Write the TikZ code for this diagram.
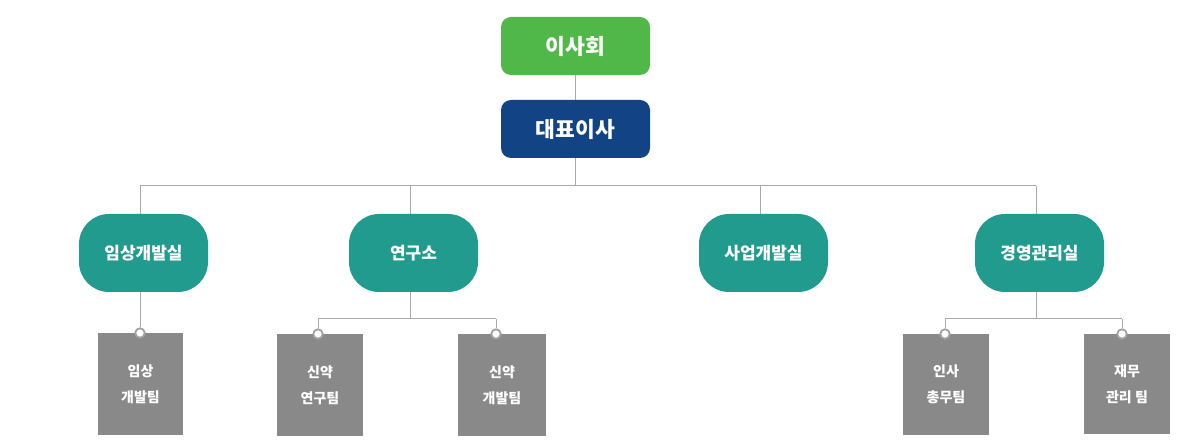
\documentclass[tikz,border=0pt]{standalone}
\usepackage{fontspec}
\setmainfont{Noto Sans CJK KR}
\definecolor{boardgreen}{HTML}{50B848}
\definecolor{ceonavy}{HTML}{124385}
\definecolor{deptteal}{HTML}{229B8F}
\definecolor{teamgray}{HTML}{898989}
\definecolor{linegray}{HTML}{AAAAAA}
\begin{document}
\begin{tikzpicture}[x=1pt,y=-1pt,
  topbox/.style={rectangle, rounded corners=10pt, minimum width=149pt, minimum height=58pt, text=white, font=\fontsize{21.5}{24}\selectfont\bfseries, inner sep=0pt},
  deptbox/.style={rectangle, rounded corners=30pt, fill=deptteal, minimum width=129pt, minimum height=78pt, text=white, font=\fontsize{17}{20}\selectfont\bfseries, inner sep=0pt},
  teambox/.style={rectangle, fill=teamgray, minimum width=86pt, minimum height=102pt, text=white, font=\fontsize{14}{26}\selectfont\bfseries, align=center, inner sep=0pt},
  pin/.style={circle, fill=white, draw=teamgray!80, line width=1.8pt, minimum size=9.5pt, inner sep=0pt},
  conn/.style={draw=linegray, line width=1pt}]
\useasboundingbox (0,0) rectangle (1200,443);
\node[topbox, fill=boardgreen] (board) at (575.5,46) {이사회};
\node[topbox, fill=ceonavy] (ceo) at (575.5,129) {대표이사};
\node[deptbox] (d1) at (143.5,253) {임상개발실};
\node[deptbox] (d2) at (413.5,253) {연구소};
\node[deptbox] (d3) at (763.5,253) {사업개발실};
\node[deptbox] (d4) at (1039.5,253) {경영관리실};
\node[teambox, minimum width=85pt] (g1) at (140.5,384) {임상\\개발팀};
\node[teambox] (g2) at (320,385) {신약\\연구팀};
\node[teambox, minimum width=88pt] (g3) at (502,385) {신약\\개발팀};
\node[teambox, minimum height=101pt] (g4) at (946,384.5) {인사\\총무팀};
\node[teambox, minimum height=100pt] (g5) at (1127,384) {재무\\관리 팀};
% bus coordinates
\coordinate (bus) at (575.5,186);
\coordinate (b1) at (140,186);
\coordinate (b2) at (410,186);
\coordinate (b3) at (760,186);
\coordinate (b4) at (1036,186);
\coordinate (s2) at (410,319);
\coordinate (s4) at (1036,319);
\path[conn] (board.south) -- (ceo.north);
\path[conn] (ceo.south) -- (bus);
\path[conn] (b1) -- (b4);
\path[conn] (b1) -- (b1 |- d1.north);
\path[conn] (b2) -- (b2 |- d2.north);
\path[conn] (b3) -- (b3 |- d3.north);
\path[conn] (b4) -- (b4 |- d4.north);
% pins
\node[pin] (p1) at (140,333) {};
\node[pin] (p2) at (318,334) {};
\node[pin] (p3) at (496,334) {};
\node[pin] (p4) at (945,334) {};
\node[pin] (p5) at (1122,334) {};
\path[conn] (b1 |- d1.south) -- (p1.north);
\path[conn] (s2 |- d2.south) -- (s2);
\path[conn] (p2 |- s2) -- (p3 |- s2);
\path[conn] (p2 |- s2) -- (p2.north);
\path[conn] (p3 |- s2) -- (p3.north);
\path[conn] (s4 |- d4.south) -- (s4);
\path[conn] (p4 |- s4) -- (p5 |- s4);
\path[conn] (p4 |- s4) -- (p4.north);
\path[conn] (p5 |- s4) -- (p5.north);
\end{tikzpicture}
\end{document}
